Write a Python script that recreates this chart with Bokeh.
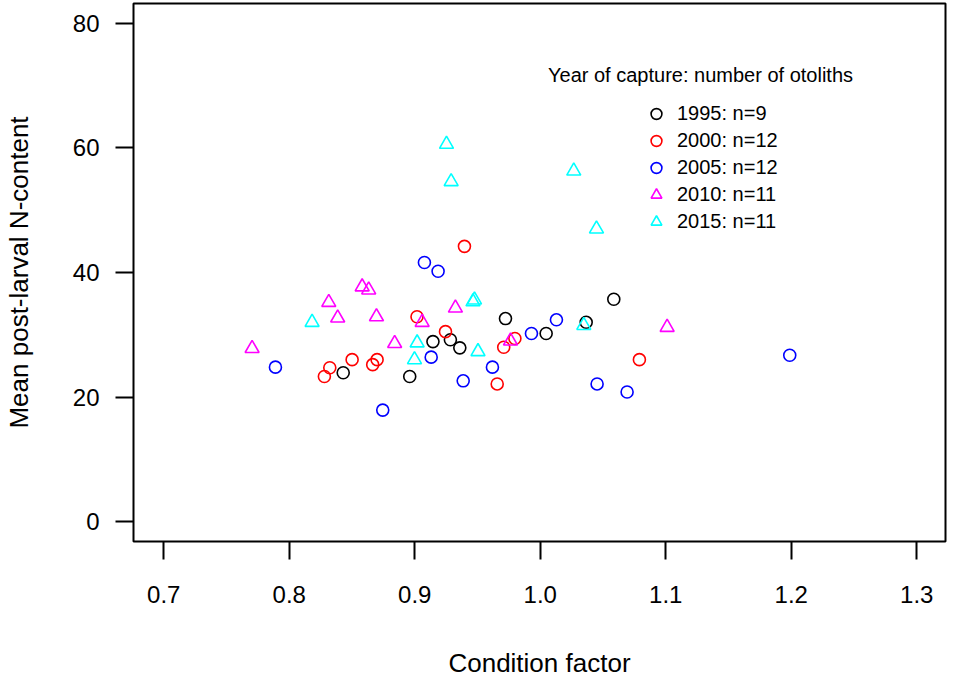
from bokeh.plotting import figure
from bokeh.models import Legend, LegendItem, Label, Range1d, FixedTicker, CustomJSTickFormatter
from bokeh.embed import file_html
from bokeh.resources import INLINE

# ---- data ----
x_ticks = [0.7, 0.8, 0.9, 1.0, 1.1, 1.2, 1.3]
y_ticks = [0, 20, 40, 60, 80]

cf_1995 = [0.843, 0.896, 0.9145, 0.9284, 0.9359, 0.9723, 1.0047, 1.0366, 1.0586]
n_1995 = [23.9, 23.3, 28.9, 29.2, 27.9, 32.6, 30.2, 32.0, 35.7]

cf_2000 = [0.828, 0.8323, 0.8501, 0.8665, 0.870, 0.9018, 0.9245, 0.9396, 0.9657, 0.9709, 0.9798, 1.079]
n_2000 = [23.3, 24.7, 26.0, 25.2, 26.0, 32.9, 30.5, 44.2, 22.1, 28.0, 29.4, 26.0]

cf_2005 = [0.789, 0.8745, 0.9077, 0.9186, 0.9131, 0.9386, 0.9619, 0.993, 1.0129, 1.0453, 1.0692, 1.1988]
n_2005 = [24.8, 17.9, 41.6, 40.2, 26.4, 22.6, 24.8, 30.2, 32.4, 22.1, 20.8, 26.7]

cf_2010 = [0.7704, 0.8315, 0.8386, 0.8581, 0.8633, 0.8695, 0.884, 0.9059, 0.9324, 0.9763, 1.1011]
n_2010 = [27.8, 35.2, 32.7, 37.7, 37.2, 32.9, 28.6, 32.0, 34.3, 29.0, 31.2]

cf_2015 = [0.8182, 0.8998, 0.9019, 0.9253, 0.929, 0.9464, 0.9476, 0.9504, 1.0267, 1.0347, 1.0448]
n_2015 = [32.0, 26.0, 28.7, 60.6, 54.6, 35.3, 35.6, 27.3, 56.3, 31.5, 47.0]

legend_labels = ["1995: n=9", "2000: n=12", "2005: n=12", "2010: n=11", "2015: n=11"]
legend_title = "Year of capture: number of otoliths"
x_label = "Condition factor"
y_label = "Mean post-larval N-content"

FONT = "Liberation Sans"

p = figure(width=954, height=680, output_backend="svg", toolbar_location=None,
           x_range=Range1d(0.6759, 1.3229), y_range=Range1d(-3.21, 83.21),
           min_border_left=133, min_border_right=9, min_border_top=3, min_border_bottom=139,
           background_fill_color="white", border_fill_color="white")

p.outline_line_color = "black"
p.outline_line_width = 2
p.xgrid.grid_line_color = None
p.ygrid.grid_line_color = None

p.xaxis.ticker = FixedTicker(ticks=x_ticks)
p.yaxis.ticker = FixedTicker(ticks=y_ticks)
p.xaxis.formatter = CustomJSTickFormatter(code="return tick.toFixed(1);")
for ax in (p.xaxis[0], p.yaxis[0]):
    ax.axis_line_color = None
    ax.major_tick_out = 18
    ax.major_tick_in = 0
    ax.minor_tick_out = 0
    ax.minor_tick_in = 0
    ax.major_tick_line_width = 2
    ax.major_tick_line_color = "black"
    ax.major_label_text_font = FONT
    ax.major_label_text_font_size = "24px"
    ax.major_label_text_color = "black"
    ax.axis_label_text_font = FONT
    ax.axis_label_text_font_size = "26px"
    ax.axis_label_text_font_style = "normal"
    ax.axis_label_text_color = "black"

p.xaxis.axis_label = x_label
p.yaxis.axis_label = y_label
p.xaxis.major_label_standoff = 26
p.xaxis.axis_label_standoff = 42
p.yaxis.major_label_standoff = 16
p.yaxis.axis_label_standoff = 36

series = [
    (cf_1995, n_1995, "#000000", "circle", 12),
    (cf_2000, n_2000, "#FF0000", "circle", 12),
    (cf_2005, n_2005, "#0000FF", "circle", 12),
    (cf_2010, n_2010, "#FF00FF", "triangle", 14),
    (cf_2015, n_2015, "#00FFFF", "triangle", 14),
]
renderers = []
for xs, ys, col, mk, sz in series:
    r = p.scatter(xs, ys, marker=mk, size=sz, fill_color=None,
                  line_color=col, line_width=1.6)
    renderers.append(r)

legend = Legend(items=[LegendItem(label=lab, renderers=[r]) for lab, r in zip(legend_labels, renderers)],
                location=(508, 306), glyph_width=30, glyph_height=27, label_height=27,
                label_standoff=6, spacing=0, padding=0, margin=0,
                border_line_color=None, background_fill_alpha=0,
                label_text_font=FONT, label_text_font_size="20px", label_text_color="black")
p.add_layout(legend)

p.add_layout(Label(x=1.1277, y=71.65, text=legend_title, text_align="center",
                   text_baseline="middle", text_font=FONT, text_font_size="20px",
                   text_color="black"))

open("out.html", "w").write(file_html(p, INLINE))
